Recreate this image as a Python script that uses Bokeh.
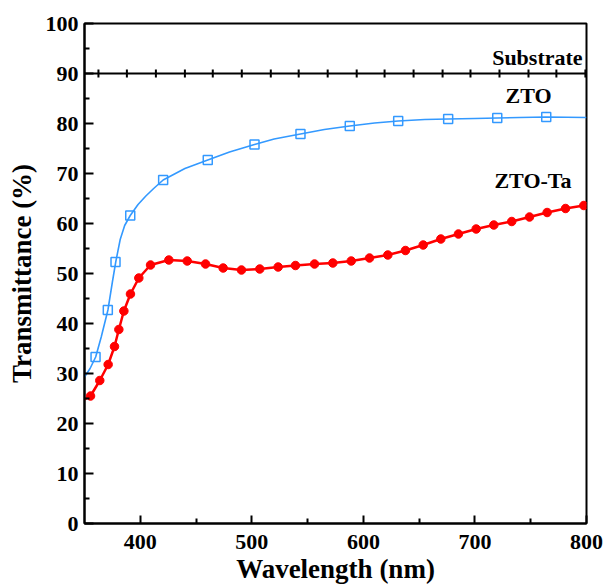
from bokeh.plotting import figure
from bokeh.models import FixedTicker, Label, Range1d
from bokeh.embed import file_html
from bokeh.resources import INLINE
import math

# ZTO: smooth curve readings and marker positions
zto_curve_wl = [350, 355, 360, 365, 371, 375, 378, 382, 386, 391, 398, 405, 412, 420.5,
                440, 460.5, 480, 502.4, 520, 543.6, 565, 587.8, 610, 631.2, 655, 676,
                700, 720, 740, 764, 800]
zto_curve_t = [29.3, 31.0, 33.3, 37.3, 42.7, 48.3, 52.3, 56.8, 59.6, 61.6, 63.8, 65.5, 67.0, 68.7,
               71.0, 72.7, 74.3, 75.8, 76.9, 77.9, 78.8, 79.5, 80.1, 80.5, 80.8, 80.9,
               81.0, 81.1, 81.2, 81.3, 81.2]
zto_mark_wl = [359.9, 370.9, 377.8, 391.0, 420.5, 460.5, 502.4, 543.6, 587.8, 631.2, 676.0, 720.0, 763.9]
zto_mark_t = [33.3, 42.7, 52.3, 61.6, 68.7, 72.7, 75.8, 77.9, 79.5, 80.5, 80.9, 81.1, 81.3]

# ZTO-Ta: measured points
ta_wl = [355.4, 363.7, 371.2, 376.9, 380.8, 385.3, 391.2, 398.7, 409.2, 425.6, 442.1, 458.5,
         474.3, 490.7, 507.1, 523.6, 539.1, 556.2, 572.6, 589.1, 605.5, 621.9, 637.7, 653.6,
         669.4, 685.2, 701.1, 716.9, 733.0, 748.9, 764.7, 781.2, 797.6]
ta_t = [25.5, 28.6, 31.8, 35.4, 38.8, 42.5, 45.9, 49.1, 51.7, 52.7, 52.5, 51.9,
        51.1, 50.7, 50.9, 51.3, 51.6, 51.9, 52.1, 52.5, 53.1, 53.7, 54.6, 55.7,
        56.9, 57.9, 58.9, 59.7, 60.4, 61.3, 62.2, 63.0, 63.6]
ta_line_wl = [350] + ta_wl + [800]
ta_line_t = [24.8] + ta_t + [63.7]

# Substrate reference line
substrate_wl = [350, 800]
substrate_t = [90, 90]
substrate_ticks = [362.5, 388, 414, 440, 465, 491, 517, 542, 568, 594, 619, 645,
                   671, 696, 722, 748, 773, 799]

x_ticks = [400, 500, 600, 700, 800]
x_minor = [450, 550, 650, 750]
y_ticks = [0, 10, 20, 30, 40, 50, 60, 70, 80, 90, 100]
y_minor = [5, 15, 25, 35, 45, 55, 65, 75, 85, 95]

FONT = "Liberation Serif"
BLUE = "#3399FF"
RED = "#FF0000"

p = figure(width=606, height=586, output_backend="svg", toolbar_location=None,
           x_range=Range1d(350, 800), y_range=Range1d(0, 100))
p.min_border_left = 84
p.min_border_right = 20
p.min_border_top = 23
p.min_border_bottom = 63
p.xgrid.visible = False
p.ygrid.visible = False
p.outline_line_color = "black"
p.outline_line_width = 2
p.outline_line_alpha = 1
p.background_fill_color = "white"
p.border_fill_color = "white"

for axes in (p.xaxis, p.yaxis):
    axes.axis_line_width = 2
    axes.major_tick_line_width = 2
    axes.minor_tick_line_width = 2
    axes.major_tick_out = 0
    axes.minor_tick_out = 0
    axes.major_label_text_font = FONT
    axes.major_label_text_font_style = "bold"
    axes.major_label_text_font_size = "22px"
    axes.major_label_text_color = "black"
    axes.axis_label_text_font = FONT
    axes.axis_label_text_font_style = "bold"
    axes.axis_label_text_font_size = "27px"
    axes.axis_label_text_color = "black"

p.xaxis.ticker = FixedTicker(ticks=x_ticks, minor_ticks=x_minor)
p.yaxis.ticker = FixedTicker(ticks=y_ticks, minor_ticks=y_minor)
p.xaxis.major_tick_in = 8
p.xaxis.minor_tick_in = 5
p.yaxis.major_tick_in = 9
p.yaxis.minor_tick_in = 5
p.xaxis.axis_label = "Wavelength (nm)"
p.yaxis.axis_label = "Transmittance (%)"
p.xaxis.major_label_standoff = 11
p.xaxis.axis_label_standoff = 2
p.yaxis.major_label_standoff = 6
p.yaxis.axis_label_standoff = 6

# Substrate line
p.line(substrate_wl, substrate_t, line_color="black", line_width=2)
p.scatter(substrate_ticks, [90] * len(substrate_ticks), marker="dash", angle=math.pi / 2,
          size=8, line_color="black", line_width=2)

# ZTO
p.line(zto_curve_wl, zto_curve_t, line_color=BLUE, line_width=1.6)
p.scatter(zto_mark_wl, zto_mark_t, marker="square", size=9, fill_color=None,
          line_color=BLUE, line_width=1.5)

# ZTO-Ta
p.line(ta_line_wl, ta_line_t, line_color=RED, line_width=2.5)
p.scatter(ta_wl, ta_t, marker="circle", size=8.5, fill_color=RED, line_color=RED)

for txt, x, y, align in [("Substrate", 796.5, 93.3, "right"),
                         ("ZTO", 748, 85.7, "center"),
                         ("ZTO-Ta", 752, 68.6, "center")]:
    p.add_layout(Label(x=x, y=y, text=txt, text_align=align, text_baseline="middle",
                       text_font=FONT, text_font_style="bold", text_font_size="22px",
                       text_color="black"))

open("out.html", "w").write(file_html(p, INLINE))
